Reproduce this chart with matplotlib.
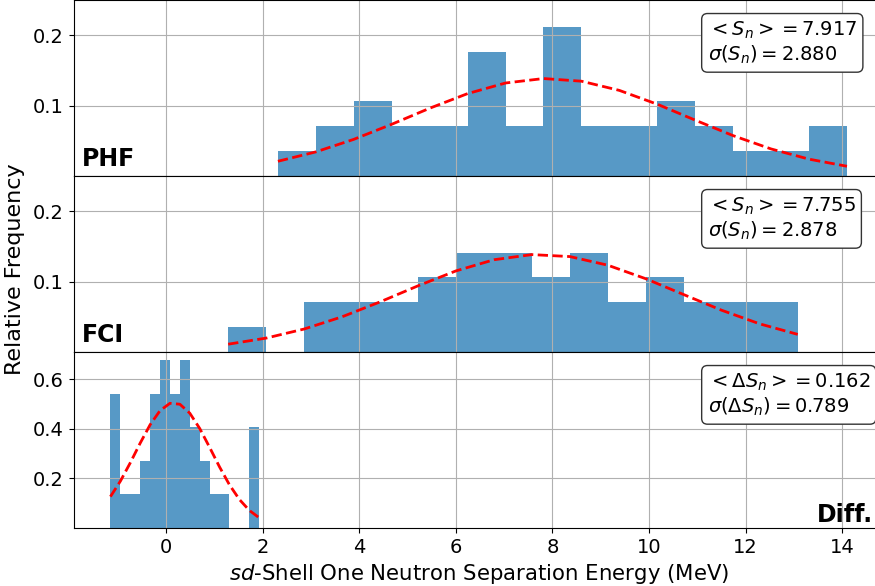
import numpy as np
import matplotlib
matplotlib.use("Agg")
import matplotlib.pyplot as plt

# ---- data ----
# PHF: 15 bins between min and max separation energy, counts per bin
phf_range = (2.317, 14.10)
phf_counts = [1, 2, 3, 2, 2, 5, 2, 6, 2, 2, 3, 2, 1, 1, 2]
phf_mu, phf_sigma = 7.917, 2.880

# FCI
fci_range = (1.287, 13.08)
fci_counts = [1, 0, 2, 2, 2, 3, 4, 4, 3, 4, 2, 3, 2, 2, 2]
fci_mu, fci_sigma = 7.755, 2.878

# Difference PHF - FCI
diff_range = (-1.151, 1.93)
diff_counts = [4, 1, 1, 2, 4, 5, 4, 5, 3, 2, 1, 1, 0, 0, 3]
diff_mu, diff_sigma = 0.162, 0.789

panel_labels = ["PHF", "FCI", "Diff."]
stat_texts = [
    r"$<S_n> = 7.917$" + "\n" + r"$\sigma(S_n) = 2.880$",
    r"$<S_n> = 7.755$" + "\n" + r"$\sigma(S_n) = 2.878$",
    r"$<\Delta S_n> = 0.162$" + "\n" + r"$\sigma(\Delta S_n) = 0.789$",
]
yticks_top = [0.1, 0.2]
yticks_diff = [0.2, 0.4, 0.6]
xlabel = r"$sd$-Shell One Neutron Separation Energy (MeV)"
ylabel = "Relative Frequency"

plt.rcParams["font.family"] = ["DejaVu Sans"]
plt.rcParams["font.size"] = 14

W, H = 875, 586
fig = plt.figure(figsize=(W / 100, H / 100), dpi=100)
gs = fig.add_gridspec(3, 1, left=73.6 / W, right=883.8 / W, top=1.0,
                      bottom=(H - 528) / H, hspace=0)
axes = [fig.add_subplot(gs[0])]
axes.append(fig.add_subplot(gs[1], sharex=axes[0]))
axes.append(fig.add_subplot(gs[2], sharex=axes[0]))


def gauss(x, mu, s):
    return np.exp(-0.5 * ((x - mu) / s) ** 2) / (s * np.sqrt(2 * np.pi))


datasets = [
    (phf_range, phf_counts, phf_mu, phf_sigma),
    (fci_range, fci_counts, fci_mu, fci_sigma),
    (diff_range, diff_counts, diff_mu, diff_sigma),
]

for i, (ax, (rng, counts, mu, sig)) in enumerate(zip(axes, datasets)):
    edges = np.linspace(rng[0], rng[1], len(counts) + 1)
    centers = 0.5 * (edges[:-1] + edges[1:])
    ax.hist(centers, bins=edges, weights=counts, density=True,
            color="C0", alpha=0.75)
    ax.plot(edges, gauss(edges, mu, sig), "r--", lw=2)
    ax.grid(True)
    ax.text(0.7824, 0.89, stat_texts[i], transform=ax.transAxes,
            ha="left", va="top", fontsize=14,
            bbox=dict(boxstyle="round", facecolor="white", edgecolor="0.2"))

axes[0].set_ylim(0, 0.25)
axes[1].set_ylim(0, 0.25)
axes[0].set_yticks(yticks_top)
axes[1].set_yticks(yticks_top)
axes[2].set_yticks(yticks_diff)

for ax in axes[:2]:
    ax.tick_params(labelbottom=False)

axes[0].text(0.01, 0.03, panel_labels[0], transform=axes[0].transAxes,
             fontsize=17, fontweight="bold", ha="left", va="bottom")
axes[1].text(0.01, 0.03, panel_labels[1], transform=axes[1].transAxes,
             fontsize=17, fontweight="bold", ha="left", va="bottom")
axes[2].text(0.987, 0.005, panel_labels[2], transform=axes[2].transAxes,
             fontsize=17, fontweight="bold", ha="right", va="bottom")

axes[1].set_ylabel(ylabel, fontsize=16)
axes[1].yaxis.set_label_coords(-0.06, 0.472)
axes[2].set_xlabel(xlabel, fontsize=15.3)

fig.savefig("out.png", dpi=100)
